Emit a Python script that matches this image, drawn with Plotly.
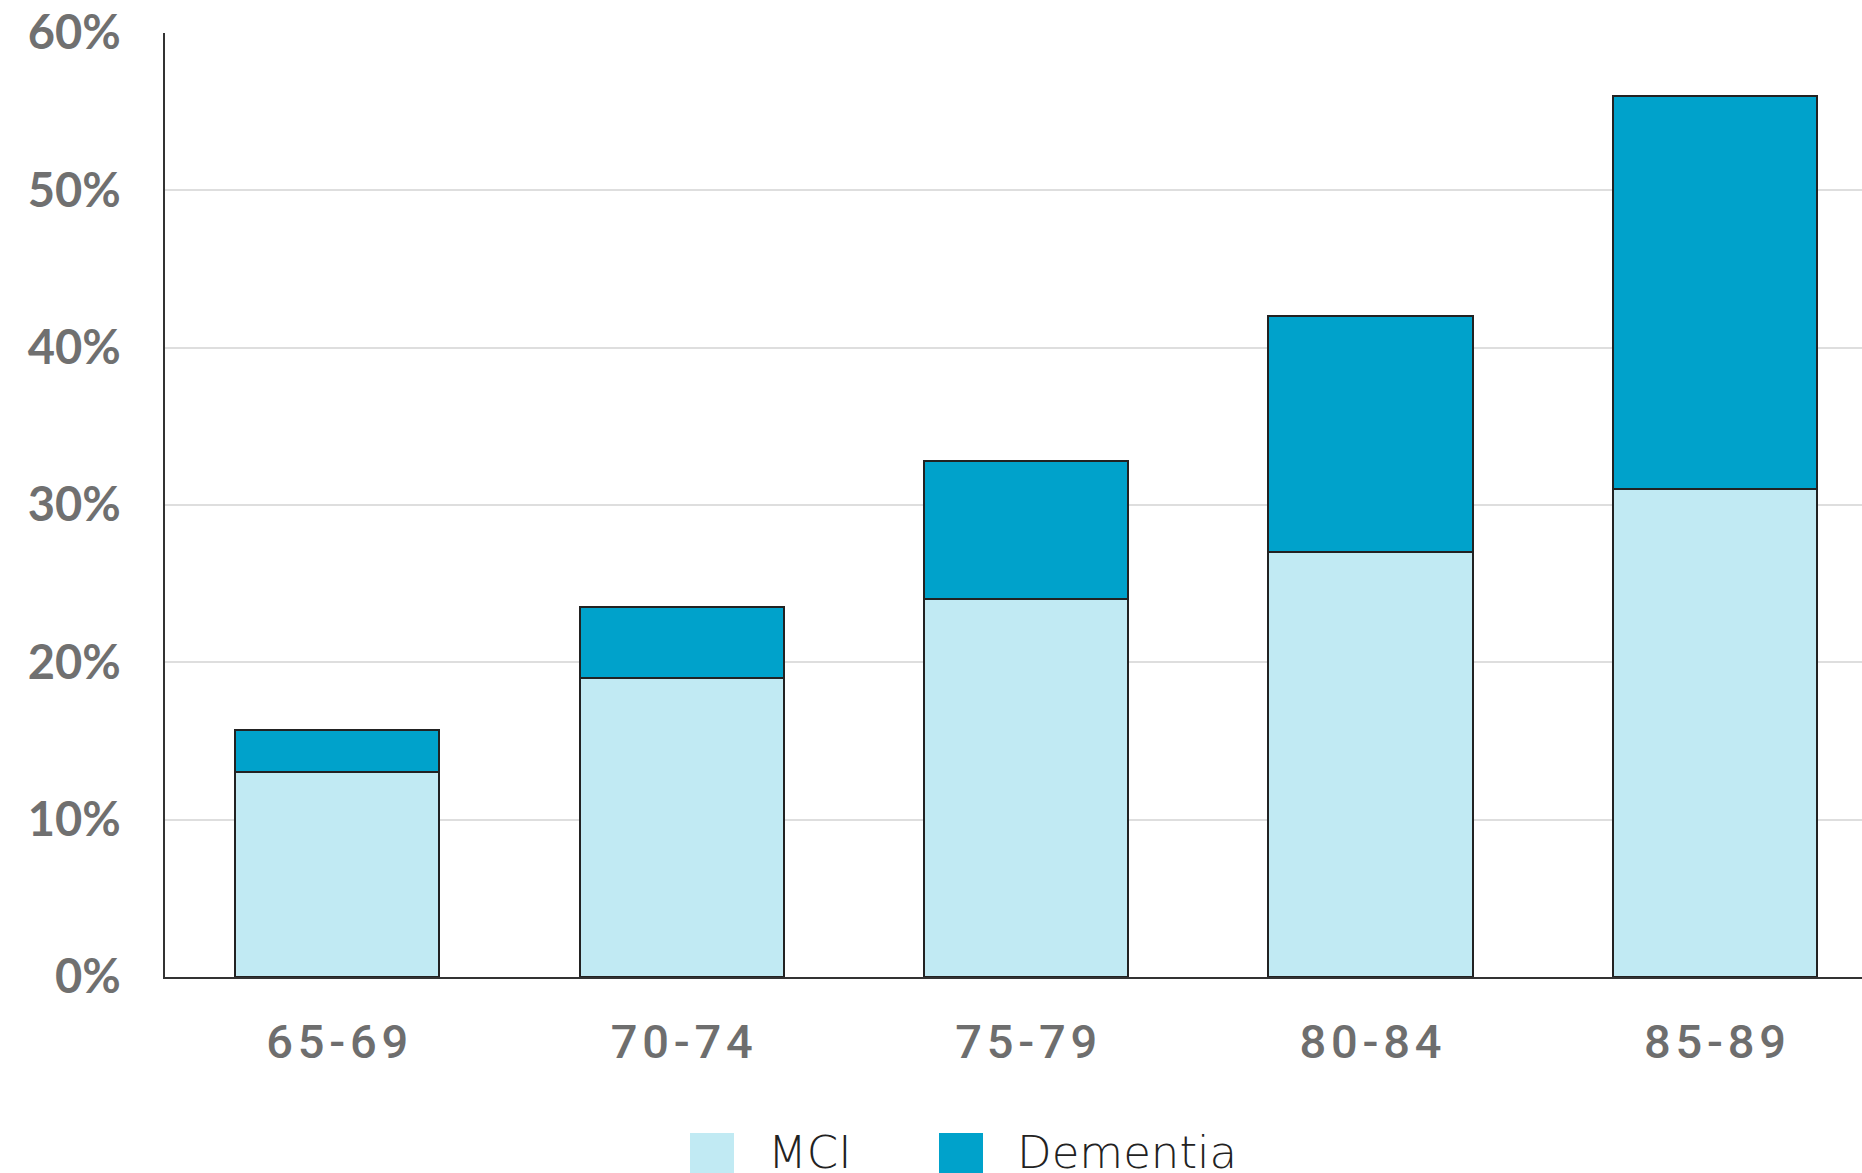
import plotly.graph_objects as go

# Prevalence by age group, stacked: MCI on the bottom, dementia on top
age_groups = ["65-69", "70-74", "75-79", "80-84", "85-89"]
mci = [13.0, 19.0, 24.0, 27.0, 31.0]
total = [15.7, 23.5, 32.8, 42.0, 56.0]
dementia = [t - m for t, m in zip(total, mci)]

y_ticks = [0, 10, 20, 30, 40, 50, 60]
y_tick_labels = [f"{v}%" for v in y_ticks]
series_names = ["MCI", "Dementia"]

MCI_COLOR = "#c1eaf3"
DEM_COLOR = "#00a2cb"
EDGE = "#222222"

W, H = 1862, 1173
M_L, M_R, M_T, M_B = 165, 0, 33, 196
plot_w = W - M_L - M_R
plot_h = H - M_T - M_B


def px_x(x):
    return (x - M_L) / plot_w


def px_y(y):
    return (H - M_B - y) / plot_h


# spaced-out category labels
spaced = ["\u200a".join(list(g)) for g in age_groups]

fig = go.Figure()
fig.add_trace(go.Bar(
    x=list(range(len(age_groups))), y=mci, name=series_names[0],
    marker=dict(color=MCI_COLOR, line=dict(color=EDGE, width=2)),
    showlegend=False,
))
fig.add_trace(go.Bar(
    x=list(range(len(age_groups))), y=dementia, name=series_names[1],
    marker=dict(color=DEM_COLOR, line=dict(color=EDGE, width=2)),
    showlegend=False,
))

band = 344.45
fig.update_layout(
    width=W, height=H,
    margin=dict(l=M_L, r=M_R, t=M_T, b=M_B, pad=0),
    paper_bgcolor="white", plot_bgcolor="white",
    barmode="stack", bargap=0.407,
    xaxis=dict(
        range=[-0.5, plot_w / band - 0.5],
        tickmode="array", tickvals=list(range(len(age_groups))), ticktext=spaced,
        showgrid=False, zeroline=False,
        showline=True, linecolor="#333333", linewidth=1.5,
        ticks="", ticklabelstandoff=23,
        tickfont=dict(family="Roboto", size=47, color="#6e6e6e", weight=500),
    ),
    yaxis=dict(
        range=[0, 60],
        tickmode="array", tickvals=y_ticks, ticktext=y_tick_labels,
        showgrid=True, gridcolor="#dedede", gridwidth=1.5,
        zeroline=False,
        showline=True, linecolor="#333333", linewidth=1.5,
        ticks="", ticklabelstandoff=33,
        tickfont=dict(family="Lato", size=47, color="#707070", weight=700),
    ),
)

# legend: square swatches with labels beneath the chart
legend_items = [
    (series_names[0], MCI_COLOR, 690, 766),
    (series_names[1], DEM_COLOR, 939, 1015),
]
for name, color, sx, tx in legend_items:
    fig.add_shape(
        type="rect", xref="paper", yref="paper",
        x0=px_x(sx), x1=px_x(sx + 44), y0=px_y(1133), y1=px_y(1176),
        fillcolor=color, line=dict(width=0),
    )
    fig.add_annotation(
        xref="paper", yref="paper", x=px_x(tx), y=px_y(1152),
        text=name, showarrow=False, xanchor="left", yanchor="middle",
        font=dict(family="DejaVu Sans", size=45, color="#222222", weight=200),
    )

fig.write_html("out.html")
